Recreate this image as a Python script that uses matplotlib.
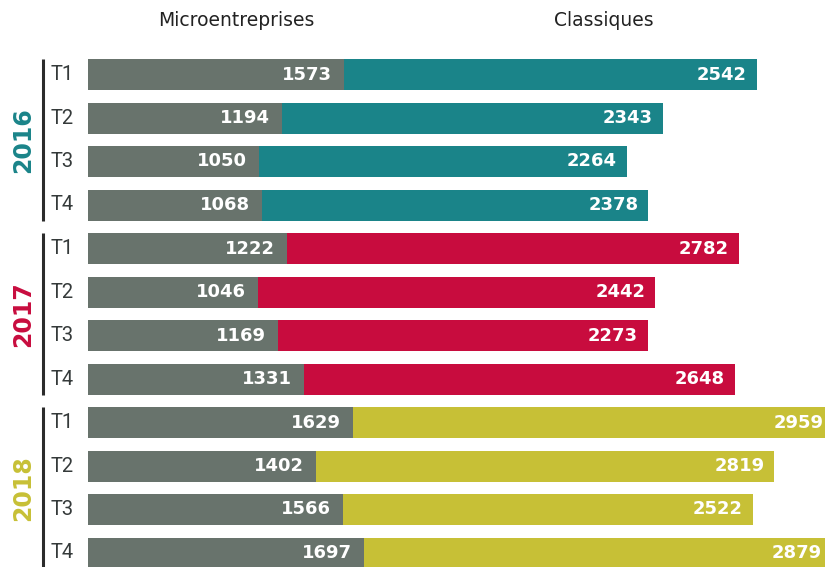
import matplotlib.pyplot as plt
from matplotlib.transforms import blended_transform_factory

# data
years = ['2016', '2017', '2018']
quarters = ['T1', 'T2', 'T3', 'T4']
micro = [1573, 1194, 1050, 1068,
         1222, 1046, 1169, 1331,
         1629, 1402, 1566, 1697]
classiques = [2542, 2343, 2264, 2378,
              2782, 2442, 2273, 2648,
              2959, 2819, 2522, 2879]

grey = '#68736c'
year_colors = ['#1a8489', '#c80c3e', '#c7c036']

W, H = 825, 567
fig = plt.figure(figsize=(W / 100, H / 100), dpi=100)

# axes starts at the left edge of the bars and runs to the right edge of the figure
x0 = 88
px_per_unit = 0.1626
ax = fig.add_axes([x0 / W, 0, 1 - x0 / W, 1])
ax.set_xlim(0, (W - x0) / px_per_unit)

# bar i is centred at pixel 74.5 + 43.5*i
step = 43.5
first = 74.5
ax.set_ylim((H - first) / step, -first / step)
ax.axis('off')

bar_h = 31 / step
pos = list(range(len(micro)))
colors = [year_colors[i // 4] for i in pos]

ax.barh(pos, micro, height=bar_h, color=grey)
ax.barh(pos, classiques, left=micro, height=bar_h, color=colors)

num_font = dict(color='white', fontsize=13, fontweight='semibold', family='DejaVu Sans',
                va='center', ha='right')
for i in pos:
    ax.text(micro[i] - 12 / px_per_unit, i, str(micro[i]), **num_font)
    ax.text(micro[i] + classiques[i] - 10 / px_per_unit, i, str(classiques[i]), **num_font)

# group labels on the left
trans = blended_transform_factory(fig.transFigure, ax.transData)
for g, year in enumerate(years):
    top = g * 4 - bar_h / 2
    bottom = g * 4 + 3 + bar_h / 2
    ax.plot([43 / W, 43 / W], [top, bottom], color='#2b2b2b', lw=2.2,
            transform=trans, clip_on=False, solid_capstyle='butt')
    ax.text(23 / W, g * 4 + 1.5, year, transform=trans, rotation=90,
            color=year_colors[g], fontsize=17, fontweight='bold', family='DejaVu Sans',
            ha='center', va='center')
    for q, lab in enumerate(quarters):
        ax.text(51 / W, g * 4 + q, lab, transform=trans, color='#353a3a',
                fontsize=14.5, family=['Roboto', 'DejaVu Sans'],
                ha='left', va='center')

# column headers
fig.text(236 / W, 1 - 20 / H, 'Microentreprises', ha='center', va='center',
         fontsize=13.5, family='DejaVu Sans', color='#222222')
fig.text(604 / W, 1 - 20 / H, 'Classiques', ha='center', va='center',
         fontsize=13.5, family='DejaVu Sans', color='#222222')

fig.savefig('out.png', dpi=100)
